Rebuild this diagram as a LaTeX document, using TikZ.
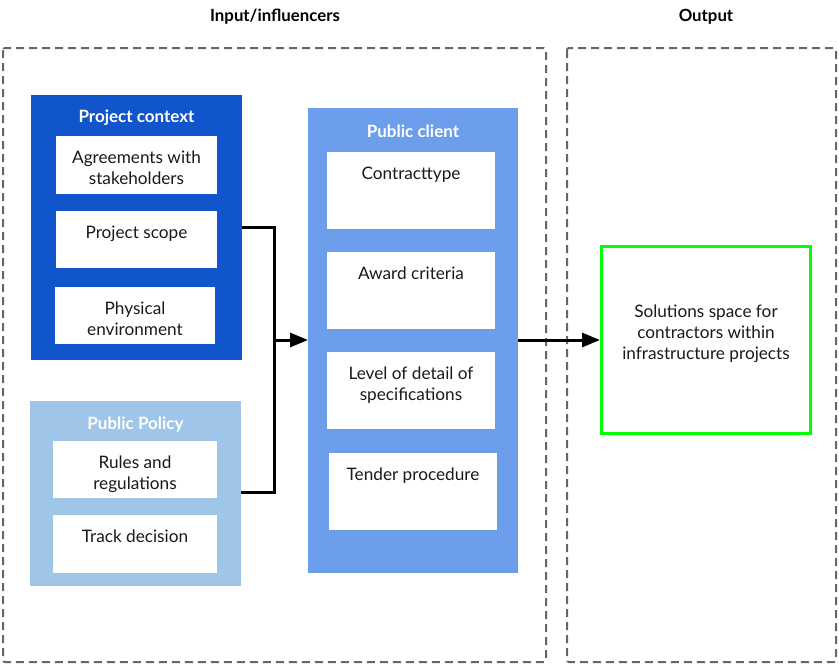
\documentclass[tikz,border=0pt]{standalone}
\usepackage{fontspec}
\setmainfont{Lato}
\usetikzlibrary{arrows.meta}

\definecolor{ctxblue}{HTML}{1155CC}
\definecolor{policyblue}{HTML}{9FC5E8}
\definecolor{clientblue}{HTML}{6D9EEB}
\definecolor{textgray}{HTML}{1A1A1A}
\definecolor{dashgray}{HTML}{666666}
\definecolor{solgreen}{HTML}{00FF00}

\tikzset{
  group/.style={fill=#1, inner sep=0pt, outer sep=0pt},
  item/.style={fill=white, inner sep=0pt, outer sep=0pt},
  itemtext/.style={anchor=north, align=center, inner sep=0pt, text=textgray,
    font=\fontsize{17.2}{21}\selectfont},
  heading/.style={font=\fontsize{17}{20}\selectfont\bfseries, text=white, inner sep=0pt},
  coltitle/.style={font=\fontsize{16.8}{20}\selectfont\bfseries, text=black, inner sep=0pt},
  frame/.style={draw=dashgray, line width=2pt, dash pattern=on 8pt off 5pt, rounded corners=2pt},
  wire/.style={line width=3pt},
  link/.style={wire, -{Triangle[length=18pt,width=14pt]}}
}

\begin{document}
\begin{tikzpicture}[x=1pt, y=-1pt]
\useasboundingbox (0,0) rectangle (839,667);

% Columns
\node[coltitle] (intitle) at (275,17) {Input/influencers};
\node[coltitle] (outtitle) at (706,17) {Output};
\draw[frame] (3,48) rectangle (546,662);
\draw[frame] (567,48) rectangle (836,662);

% Project context
\node[group=ctxblue, minimum width=211pt, minimum height=265pt] (ctx) at (136.5,227.5) {};
\node[heading] (ctxhead) at (136.5,118) {Project context};
\node[item, minimum width=161pt, minimum height=58pt] (agree) at (136.5,165) {};
\node[itemtext] at ([yshift=-15pt]agree.north) {Agreements with\\stakeholders};
\node[item, minimum width=161pt, minimum height=57pt] (scope) at (136.5,239.5) {};
\node[itemtext] at ([yshift=-15pt]scope.north) {Project scope};
\node[item, minimum width=160pt, minimum height=57pt] (phys) at (135,315.5) {};
\node[itemtext] at ([yshift=-15pt]phys.north) {Physical\\environment};

% Public policy
\node[group=policyblue, minimum width=211pt, minimum height=185pt] (policy) at (135.5,493.5) {};
\node[heading] (policyhead) at (135.5,425) {Public Policy};
\node[item, minimum width=164pt, minimum height=57pt] (rules) at (135,469.5) {};
\node[itemtext] at ([yshift=-15pt]rules.north) {Rules and\\regulations};
\node[item, minimum width=164pt, minimum height=58pt] (track) at (135,544) {};
\node[itemtext] at ([yshift=-15pt]track.north) {Track decision};

% Public client
\node[group=clientblue, minimum width=210pt, minimum height=465pt] (client) at (413,340.5) {};
\node[heading] (clienthead) at (413,131) {Public client};
\node[item, minimum width=168pt, minimum height=77pt] (ctype) at (411,190.5) {};
\node[itemtext] at ([yshift=-15pt]ctype.north) {Contracttype};
\node[item, minimum width=168pt, minimum height=77pt] (award) at (411,290.5) {};
\node[itemtext] at ([yshift=-15pt]award.north) {Award criteria};
\node[item, minimum width=168pt, minimum height=77pt] (detail) at (411,390.5) {};
\node[itemtext] at ([yshift=-15pt]detail.north) {Level of detail of\\specifications};
\node[item, minimum width=168pt, minimum height=77pt] (tender) at (413,491.5) {};
\node[itemtext] at ([yshift=-15pt]tender.north) {Tender procedure};

% Output
\node[draw=solgreen, line width=3pt, fill=white, minimum width=209pt, minimum height=187pt,
      inner sep=0pt] (space) at (706,340) {};
\node[itemtext, anchor=center] at (706,334) {Solutions space for\\contractors within\\infrastructure projects};

% Connectors
\coordinate (ctxout) at (ctx.east |- 0,227);
\coordinate (polout) at (policy.east |- 0,492);
\coordinate (merge) at (274,340);
\draw[wire] (ctxout) -| (merge);
\draw[wire] (polout) -| (merge);
\draw[link] (merge) -- (client.west |- merge);
\draw[link] (client.east |- merge) -- (space.west |- merge);
\end{tikzpicture}
\end{document}
